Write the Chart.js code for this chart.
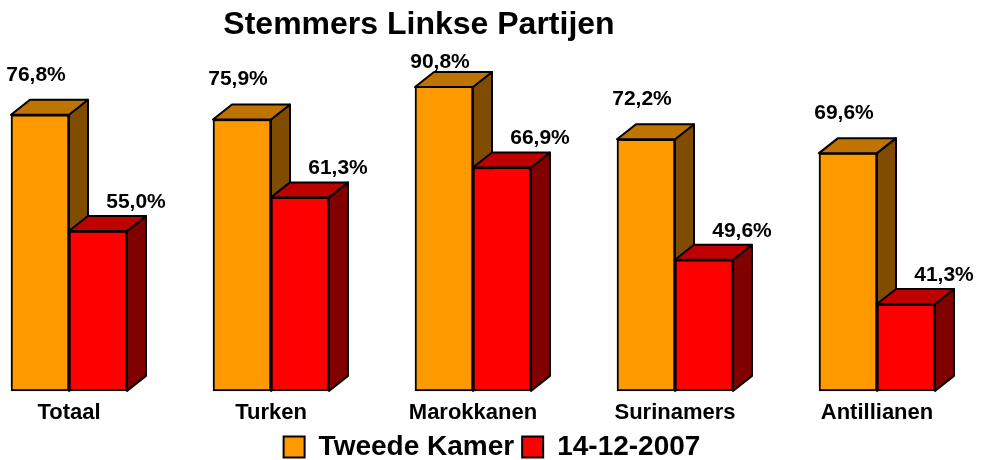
<!DOCTYPE html>
<html>
<head>
<meta charset="utf-8">
<script src="https://cdn.jsdelivr.net/npm/chart.js@4.4.1/dist/chart.umd.min.js"></script>
<style>
  body { margin: 0; background: #fff; }
</style>
</head>
<body>
<canvas id="myChart" width="984" height="460"></canvas>
<script>
const titleText = 'Stemmers Linkse Partijen';
const categories = ['Totaal', 'Turken', 'Marokkanen', 'Surinamers', 'Antillianen'];
const seriesNames = ['Tweede Kamer', '14-12-2007'];
const tweedeKamer = [76.8, 75.9, 90.8, 72.2, 69.6];
const dec2007 = [55.0, 61.3, 66.9, 49.6, 41.3];
const axisMin = 25;
const axisMax = 82;

const FONT = "'Liberation Sans', Arial, sans-serif";
Chart.defaults.font.family = FONT;
Chart.defaults.color = '#000';

// depth of the fake 3d blocks
const DEPTH_X = 19;
const DEPTH_Y = 15;

const fmt = (v) => v.toFixed(1).replace('.', ',') + '%';

function barBox(chart, d, i) {
  const el = chart.getDatasetMeta(d).data[i];
  const p = el.getProps(['x', 'y', 'base', 'width'], true);
  return {
    left: p.x - p.width / 2,
    right: p.x + p.width / 2,
    x: p.x,
    top: Math.max(p.y, chart.chartArea.top), // bar is cut at the top of the plot
    base: p.base,
  };
}

const bars3d = {
  id: 'bars3d',
  beforeDatasetsDraw(chart) {
    const ctx = chart.ctx;
    ctx.save();
    ctx.lineWidth = 2;
    ctx.strokeStyle = '#000';
    ctx.lineJoin = 'round';
    for (let i = 0; i < categories.length; i++) {
      chart.data.datasets.forEach((ds, d) => {
        const b = barBox(chart, d, i);
        ctx.beginPath();
        ctx.moveTo(b.right, b.top);
        ctx.lineTo(b.right + DEPTH_X, b.top - DEPTH_Y);
        ctx.lineTo(b.right + DEPTH_X, b.base - DEPTH_Y);
        ctx.lineTo(b.right, b.base);
        ctx.closePath();
        ctx.fillStyle = ds.sideColor;
        ctx.fill();
        ctx.stroke();
      });
    }
    ctx.restore();
  },
  afterDatasetsDraw(chart) {
    const ctx = chart.ctx;
    ctx.save();
    ctx.lineWidth = 2;
    ctx.strokeStyle = '#000';
    ctx.lineJoin = 'round';
    for (let i = 0; i < categories.length; i++) {
      chart.data.datasets.forEach((ds, d) => {
        const b = barBox(chart, d, i);
        ctx.beginPath();
        ctx.moveTo(b.left, b.top);
        ctx.lineTo(b.left + DEPTH_X, b.top - DEPTH_Y);
        ctx.lineTo(b.right + DEPTH_X, b.top - DEPTH_Y);
        ctx.lineTo(b.right, b.top);
        ctx.closePath();
        ctx.fillStyle = ds.topColor;
        ctx.fill();
        ctx.stroke();
      });
    }
    // value labels
    ctx.font = 'bold 21px ' + FONT;
    ctx.fillStyle = '#000';
    ctx.textAlign = 'center';
    ctx.textBaseline = 'middle';
    chart.data.datasets.forEach((ds, d) => {
      ds.data.forEach((v, i) => {
        const b = barBox(chart, d, i);
        const ly = Math.max(b.top + ds.labelDy, chart.chartArea.top - 25);
        ctx.fillText(fmt(v), b.x + ds.labelDx, ly);
      });
    });
    ctx.restore();
  },
  afterDraw(chart) {
    const ctx = chart.ctx;
    ctx.save();
    ctx.font = 'bold 32px ' + FONT;
    ctx.fillStyle = '#000';
    ctx.textAlign = 'center';
    ctx.textBaseline = 'middle';
    ctx.fillText(titleText, 419, 25);
    ctx.restore();
  }
};

const spacer = (w, pos) => ({
  type: 'linear',
  position: pos,
  display: true,
  ticks: { display: false },
  grid: { display: false, drawTicks: false },
  border: { display: false },
  afterFit: (scale) => { scale.width = w; }
});

const ctx = document.getElementById('myChart').getContext('2d');
new Chart(ctx, {
  type: 'bar',
  data: {
    labels: categories,
    datasets: [
      {
        label: seriesNames[0],
        data: tweedeKamer,
        base: axisMin,
        backgroundColor: '#FF9900',
        topColor: '#BF7300',
        sideColor: '#804D00',
        labelDx: -4,
        labelDy: -40,
        borderColor: '#000',
        borderWidth: 2,
        borderSkipped: false,
        clip: { left: 100, right: 100, top: 0, bottom: 5 },
      },
      {
        label: seriesNames[1],
        data: dec2007,
        base: axisMin,
        backgroundColor: '#FF0000',
        topColor: '#BF0000',
        sideColor: '#800000',
        labelDx: 38,
        labelDy: -29,
        borderColor: '#000',
        borderWidth: 2,
        borderSkipped: false,
        clip: { left: 100, right: 100, top: 0, bottom: 5 },
      },
    ],
  },
  options: {
    responsive: false,
    animation: false,
    barThickness: 58,
    layout: { padding: { top: 87 } },
    plugins: {
      title: { display: false },
      tooltip: { enabled: false },
      legend: {
        position: 'bottom',
        maxHeight: 35,
        labels: {
          font: { size: 28, weight: 'bold' },
          color: '#000',
          boxWidth: 21,
          boxHeight: 21,
          padding: 8,
        },
      },
    },
    scales: {
      x: {
        offset: false,
        grid: { display: false, drawTicks: false },
        border: { display: false },
        ticks: { padding: 9, font: { size: 22, weight: 'bold' }, color: '#000', maxRotation: 0, autoSkip: false },
        afterFit: (scale) => { scale.height = 34; },
      },
      y: Object.assign(spacer(69, 'left'), { min: axisMin, max: axisMax }),
      y2: spacer(107, 'right'),
    },
  },
  plugins: [bars3d],
});
</script>
</body>
</html>
